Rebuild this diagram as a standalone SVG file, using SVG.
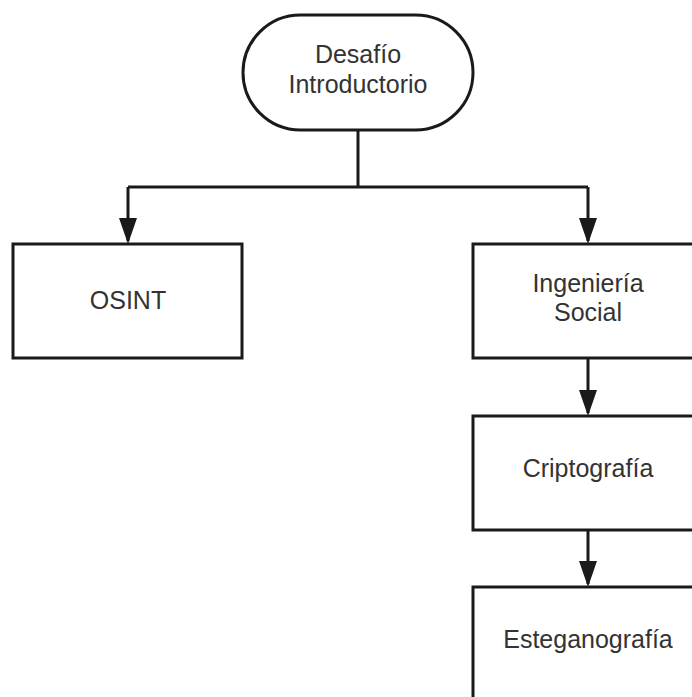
<svg xmlns="http://www.w3.org/2000/svg" width="692" height="697" viewBox="0 0 692 697">
<style>
.shape{fill:#ffffff;stroke:#1a1a1a;stroke-width:3}
.lbl{font-family:"Liberation Sans",Arial,sans-serif;font-size:25px;fill:#333333;text-anchor:middle}
.conn{fill:none;stroke:#1a1a1a;stroke-width:3}
</style>
<defs>
<marker id="arrow" markerUnits="userSpaceOnUse" viewBox="0 0 26 18" markerWidth="26" markerHeight="18" refX="23" refY="9" orient="auto">
<path d="M0 0 L26 9 L0 18 Z" fill="#1a1a1a"/>
</marker>
</defs>
<rect width="692" height="697" fill="#ffffff"/>
<g id="connectors">
<path class="conn" d="M358 130 V187"/>
<path class="conn" d="M128 187 H588"/>
<path class="conn" d="M128 187 V241" marker-end="url(#arrow)"/>
<path class="conn" d="M588 187 V241" marker-end="url(#arrow)"/>
<path class="conn" d="M588 358 V413" marker-end="url(#arrow)"/>
<path class="conn" d="M588 530 V584" marker-end="url(#arrow)"/>
</g>
<g id="desafio">
<rect class="shape" x="243" y="15" width="230" height="115" rx="57.5" ry="57.5"/>
<text class="lbl" x="358" y="63">Desafío</text>
<text class="lbl" x="358" y="93">Introductorio</text>
</g>
<g id="osint">
<rect class="shape" x="13" y="244" width="229" height="114"/>
<text class="lbl" x="128" y="309">OSINT</text>
</g>
<g id="ingenieria">
<rect class="shape" x="473" y="244" width="230" height="114"/>
<text class="lbl" x="588" y="292">Ingeniería</text>
<text class="lbl" x="588" y="321">Social</text>
</g>
<g id="criptografia">
<rect class="shape" x="473" y="416" width="230" height="114"/>
<text class="lbl" x="588" y="477">Criptografía</text>
</g>
<g id="esteganografia">
<rect class="shape" x="473" y="587" width="230" height="114"/>
<text class="lbl" x="588" y="648">Esteganografía</text>
</g>
</svg>
